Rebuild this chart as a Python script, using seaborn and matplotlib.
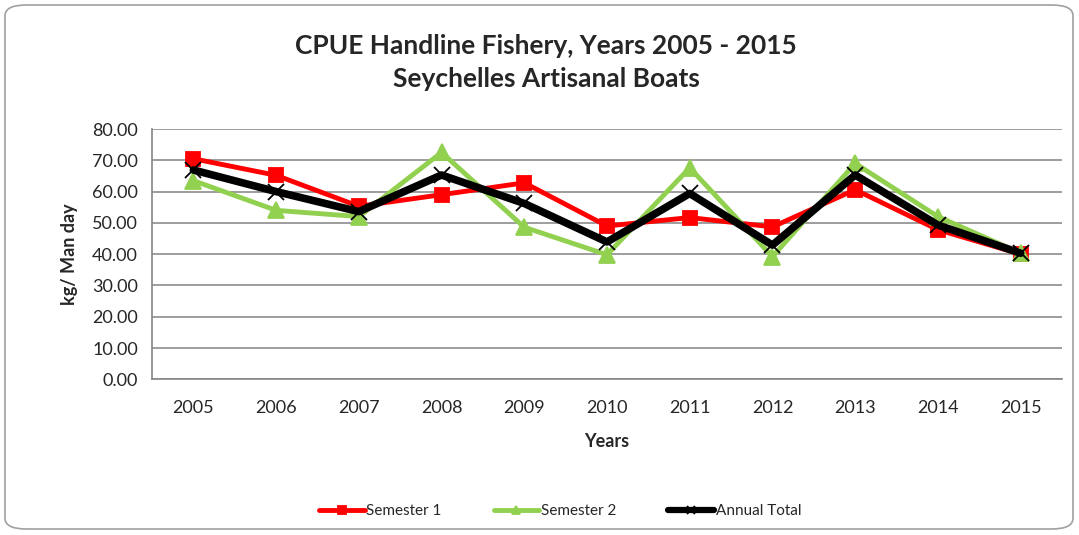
import numpy as np
import pandas as pd
import matplotlib
matplotlib.use('Agg')
import matplotlib.pyplot as plt
from matplotlib.patches import FancyBboxPatch
from matplotlib.ticker import FixedLocator
import seaborn as sbn

years = ['2005', '2006', '2007', '2008', '2009', '2010', '2011', '2012', '2013', '2014', '2015']
semester1 = [70.5, 65.2, 55.3, 59.0, 62.8, 49.0, 51.7, 48.7, 60.6, 47.8, 40.0]
semester2 = [63.5, 54.0, 52.0, 72.5, 48.6, 39.8, 67.6, 39.2, 69.0, 52.0, 40.3]
annual = [66.9, 60.0, 53.6, 65.3, 56.2, 43.9, 59.4, 42.9, 65.3, 49.3, 40.3]

df = pd.DataFrame({'Year': years, 'Semester 1': semester1,
                   'Semester 2': semester2, 'Annual Total': annual})
long = df.melt(id_vars='Year', var_name='Series', value_name='CPUE')

sbn.set_style('white')
plt.rcParams['font.family'] = ['Lato', 'DejaVu Sans']

fig = plt.figure(figsize=(10.79, 5.35), dpi=100)
ax = fig.add_axes([152 / 1079, 1 - 379.3 / 535, 910 / 1079, 250.3 / 535])

# rounded frame around the whole chart
fig.patches.append(FancyBboxPatch((5 / 1079, 6 / 535), 1068 / 1079, 524 / 535,
                                  boxstyle='round,pad=0,rounding_size=0.02',
                                  transform=fig.transFigure, fc='white',
                                  ec='#a0a0a0', lw=1.2, zorder=-1))

styles = {'Semester 1': dict(color='#ff0000', marker='s', lw=3.5, ms=10, z=3),
          'Semester 2': dict(color='#92d050', marker='^', lw=3.5, ms=11, z=4),
          'Annual Total': dict(color='#000000', marker='x', lw=5.5, ms=11, z=5)}

for name, st in styles.items():
    sub = long[long['Series'] == name]
    sbn.lineplot(data=sub, x='Year', y='CPUE', ax=ax, color=st['color'],
                 marker=st['marker'], lw=st['lw'], ms=st['ms'],
                 markeredgecolor=st['color'], markeredgewidth=1.3,
                 label=name, zorder=st['z'], sort=False)

ax.set_xlim(-0.5, 10.5)
ax.set_ylim(0, 80)
ax.set_yticks(np.arange(0, 81, 10))
ax.set_yticklabels([f'{v:.2f}' for v in np.arange(0, 81, 10)], fontsize=13)
ax.tick_params(axis='x', which='major', length=0, labelsize=13, pad=15)
ax.xaxis.set_minor_locator(FixedLocator(np.arange(-0.5, 11, 1)))
ax.tick_params(axis='x', which='minor', length=6, color='#868686', direction='out')
ax.tick_params(axis='y', length=6, color='#868686', direction='out', pad=4)
ax.grid(axis='y', color='#8c8c8c', lw=1.2)
ax.set_axisbelow(True)
for s in ['top', 'right']:
    ax.spines[s].set_visible(False)
for s in ['left', 'bottom']:
    ax.spines[s].set_color('#868686')
    ax.spines[s].set_linewidth(1.2)

ax.set_xlabel('Years', fontsize=13, fontweight='bold', labelpad=12)
ax.set_ylabel('kg/ Man day', fontsize=13, fontweight='bold', labelpad=10)
fig.text(546 / 1079, 1 - 62 / 535,
         'CPUE Handline Fishery, Years 2005 - 2015\nSeychelles Artisanal Boats',
         ha='center', va='center', fontsize=19, fontweight='bold', linespacing=1.45)

leg = ax.legend(loc='center', bbox_to_anchor=(560 / 1079, 1 - 511 / 535),
                bbox_transform=fig.transFigure, ncol=3, frameon=False, fontsize=11,
                handlelength=3.0, handletextpad=0.1, columnspacing=3.4, markerscale=0.55)
for line in leg.get_lines():
    line.set_linewidth(min(line.get_linewidth(), 4.5))

fig.savefig('out.png', dpi=100)
